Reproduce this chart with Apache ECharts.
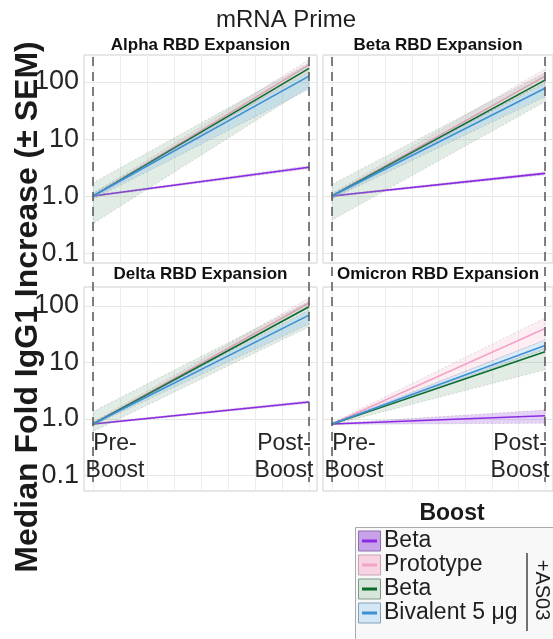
<!DOCTYPE html>
<html><head><meta charset="utf-8">
<script src="https://cdn.jsdelivr.net/npm/echarts@6/dist/echarts.min.js"></script>
<style>html,body{margin:0;padding:0;background:#fff}#c{width:553px;height:639px}</style>
</head><body><div id="c"></div>
<script>
// ---------- data ----------
const timepoints = [0, 1];               // Pre-Boost, Post-Boost
const timeLabels = ['Pre-\nBoost', 'Post-\nBoost'];
const chartTitle = 'mRNA Prime';
const panelTitles = ['Alpha RBD Expansion', 'Beta RBD Expansion', 'Delta RBD Expansion', 'Omicron RBD Expansion'];
const groupNames = ['Beta', 'Prototype', 'Beta', 'Bivalent 5 μg'];
const legendTitle = 'Boost';
const adjuvantLabel = '+AS03';
const yAxisTitle = 'Median Fold IgG1 Increase (± SEM)';
const yRangeTop = [0.067, 298];
const yRangeBottom = [0.053, 217];

// per panel, per group: [pre, post]
const alphaMedian = [[1.0, 3.2], [1.0, 200], [1.0, 174], [1.0, 127]];
const alphaLow    = [[0.97, 3.0], [0.9, 160], [0.33, 82], [0.88, 75]];
const alphaHigh   = [[1.03, 3.4], [1.1, 245], [1.7, 215], [1.12, 150]];

const betaMedian  = [[1.0, 2.5], [1.0, 127], [1.0, 108], [1.0, 78]];
const betaLow     = [[0.97, 2.35], [0.9, 100], [0.38, 45], [0.9, 55]];
const betaHigh    = [[1.03, 2.65], [1.1, 170], [1.6, 145], [1.1, 96]];

const deltaMedian = [[0.815, 2.0], [0.815, 113], [0.815, 97], [0.815, 69]];
const deltaLow    = [[0.79, 1.9], [0.75, 95], [0.6, 43], [0.77, 48]];
const deltaHigh   = [[0.84, 2.1], [0.88, 138], [1.35, 120], [0.87, 85]];

const omicronMedian = [[0.815, 1.14], [0.815, 40], [0.815, 15.5], [0.815, 20]];
const omicronLow    = [[0.8, 0.84], [0.78, 25], [0.78, 7.4], [0.79, 17]];
const omicronHigh   = [[0.83, 1.44], [0.85, 61], [0.85, 18], [0.84, 25]];

// ---------- styles ----------
const lineColors = ['#8a2be2', '#f2a3c6', '#0b6b2e', '#3d8fd6'];
const bandColors = ['rgba(170,110,230,0.30)', 'rgba(245,170,200,0.20)', 'rgba(120,170,130,0.22)', 'rgba(120,180,230,0.25)'];
const keyFill = ['#c9a3ea', '#f8d3e3', '#d6e6da', '#d3e7f5'];
const keyStroke = ['#8f70ad', '#c9a3b5', '#7f9a86', '#7fa2bd'];

const panels = [
  { med: alphaMedian, lo: alphaLow, hi: alphaHigh },
  { med: betaMedian, lo: betaLow, hi: betaHigh },
  { med: deltaMedian, lo: deltaLow, hi: deltaHigh },
  { med: omicronMedian, lo: omicronLow, hi: omicronHigh }
];
const cols = [
  { outerL: 84, outerW: 233, innerL: 93, innerW: 216 },
  { outerL: 323, outerW: 232, innerL: 332, innerW: 213 }
];
const rows = [
  { top: 55, h: 208, range: yRangeTop, strip: 45 },
  { top: 287, h: 204, range: yRangeBottom, strip: 274 }
];

const FONT = 'Liberation Sans, Arial, sans-serif';
const tickFmt = v => {
  const l = Math.log10(v);
  if (Math.abs(l - Math.round(l)) > 1e-6) return '';
  if (v >= 10) return String(Math.round(v));
  return v.toFixed(1);
};

const grid = [], xAxis = [], yAxis = [], series = [];
panels.forEach((pd, p) => {
  const r = rows[Math.floor(p / 2)], c = cols[p % 2];
  grid.push({ left: c.outerL, top: r.top, width: c.outerW, height: r.h, show: true,
    borderColor: '#cfcfcf', borderWidth: 1, backgroundColor: '#fff' });
  grid.push({ left: c.innerL, top: r.top, width: c.innerW, height: r.h });
  xAxis.push({ gridIndex: 2 * p, type: 'value', min: 0, max: 1, show: false });
  xAxis.push({ gridIndex: 2 * p + 1, type: 'value', min: 0, max: 1, interval: 0.125,
    axisLine: { show: false }, axisTick: { show: false }, axisLabel: { show: false },
    splitLine: { show: true, lineStyle: { color: '#ededed', width: 1 } } });
  yAxis.push({ gridIndex: 2 * p, type: 'log', min: r.range[0], max: r.range[1],
    axisLine: { show: false }, axisTick: { show: false },
    axisLabel: { show: p % 2 === 0, formatter: tickFmt, fontSize: 27, margin: 5,
      color: '#262626', fontFamily: FONT, showMinLabel: false, showMaxLabel: false },
    splitLine: { show: true, lineStyle: { color: '#e6e6e6', width: 1 } } });
  yAxis.push({ gridIndex: 2 * p + 1, type: 'log', min: r.range[0], max: r.range[1], show: false });

  for (let g = 0; g < 4; g++) {
    series.push({
      type: 'custom', xAxisIndex: 2 * p + 1, yAxisIndex: 2 * p + 1, z: 2 + g * 2,
      data: [[timepoints[0], pd.lo[g][0], pd.hi[g][0], timepoints[1], pd.lo[g][1], pd.hi[g][1]]],
      encode: { x: [0, 3], y: [1, 2, 4, 5] },
      silent: true,
      renderItem: (params, api) => {
        const a = api.coord([api.value(0), api.value(1)]);
        const b = api.coord([api.value(0), api.value(2)]);
        const cc = api.coord([api.value(3), api.value(5)]);
        const d = api.coord([api.value(3), api.value(4)]);
        return { type: 'polygon', shape: { points: [a, b, cc, d] },
          style: { fill: bandColors[g], stroke: 'rgba(90,90,90,0.3)', lineWidth: 0.7, lineDash: [2, 2] } };
      }
    });
    series.push({
      type: 'line', xAxisIndex: 2 * p + 1, yAxisIndex: 2 * p + 1, z: 3 + g * 2,
      data: timepoints.map((t, i) => [t, pd.med[g][i]]),
      showSymbol: false, symbol: 'none', silent: true,
      lineStyle: { color: lineColors[g], width: 1.6 }
    });
  }
});

const chart = echarts.init(document.getElementById('c'), null, { renderer: 'canvas' });
chart.setOption({ animation: false, backgroundColor: '#fff', grid, xAxis, yAxis, series });

// ---------- annotations / legend ----------
const gfx = [];
gfx.push({ type: 'text', style: { text: chartTitle, x: 286, y: 20, align: 'center',
  verticalAlign: 'middle', fontSize: 24, fontFamily: FONT, fill: '#1f1f1f' } });
panels.forEach((pd, p) => {
  const r = rows[Math.floor(p / 2)], c = cols[p % 2];
  gfx.push({ type: 'text', style: { text: panelTitles[p], x: c.outerL + c.outerW / 2 - (p % 2 ? 1 : 0), y: r.strip,
    align: 'center', verticalAlign: 'middle', fontSize: 17, fontWeight: 'bold', fontFamily: FONT, fill: '#111' } });
});
// dashed reference lines at pre / post
[0, 1].forEach(ci => {
  timepoints.forEach(t => {
    const x = chart.convertToPixel({ xAxisIndex: 2 * ci + 1 }, t);
    gfx.push({ type: 'line', z: 50, shape: { x1: x, y1: 57, x2: x, y2: 482 },
      style: { stroke: '#555', lineWidth: 1.5, lineDash: [9, 6] } });
  });
  const x0 = chart.convertToPixel({ xAxisIndex: 2 * (ci + 2) + 1 }, timepoints[0]);
  const x1 = chart.convertToPixel({ xAxisIndex: 2 * (ci + 2) + 1 }, timepoints[1]);
  gfx.push({ type: 'text', z: 60, style: { text: timeLabels[0], x: x0 + 22, y: 457, align: 'center', verticalAlign: 'middle',
    fontSize: 23, lineHeight: 27, fontFamily: FONT, fill: '#262626' } });
  gfx.push({ type: 'text', z: 60, style: { text: timeLabels[1], x: x1 - 25, y: 457, align: 'center', verticalAlign: 'middle',
    fontSize: 23, lineHeight: 27, fontFamily: FONT, fill: '#262626' } });
});
// y axis title
gfx.push({ type: 'text', z: 60, x: 28, y: 307, rotation: Math.PI / 2,
  style: { text: yAxisTitle, x: 0, y: 0, align: 'center', verticalAlign: 'middle', fontSize: 32, fontWeight: 'bold',
    fontFamily: FONT, fill: '#1a1a1a' } });
// legend
gfx.push({ type: 'text', z: 60, style: { text: legendTitle, x: 452, y: 514, align: 'center', verticalAlign: 'middle',
  fontSize: 23, fontWeight: 'bold', fontFamily: FONT, fill: '#1a1a1a' } });
gfx.push({ type: 'rect', z: 55, shape: { x: 355.5, y: 527.5, width: 210, height: 120 },
  style: { fill: '#f8f8f8', stroke: '#aaaaaa', lineWidth: 1 } });
const rowY = [541, 565, 589, 613];
groupNames.forEach((name, g) => {
  gfx.push({ type: 'rect', z: 60, shape: { x: 358.5, y: rowY[g] - 10, width: 22, height: 20 },
    style: { fill: keyFill[g], stroke: keyStroke[g], lineWidth: 1 } });
  gfx.push({ type: 'line', z: 61, shape: { x1: 362, y1: rowY[g], x2: 377, y2: rowY[g] },
    style: { stroke: lineColors[g], lineWidth: 3 } });
  gfx.push({ type: 'text', z: 61, style: { text: name, x: 384, y: rowY[g], align: 'left', verticalAlign: 'middle',
    fontSize: 23, fontFamily: FONT, fill: '#1f1f1f' } });
});
gfx.push({ type: 'line', z: 61, shape: { x1: 527, y1: 553, x2: 527, y2: 631 }, style: { stroke: '#444', lineWidth: 1.5 } });
gfx.push({ type: 'text', z: 61, x: 542, y: 590, rotation: -Math.PI / 2,
  style: { text: adjuvantLabel, x: 0, y: 0, align: 'center', verticalAlign: 'middle', fontSize: 20, fontFamily: FONT, fill: '#1f1f1f' } });

chart.setOption({ graphic: { elements: gfx } });
</script></body></html>
